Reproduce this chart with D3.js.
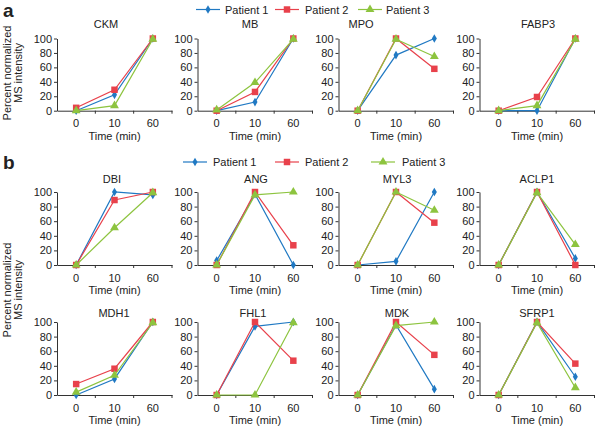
<!DOCTYPE html>
<html><head><meta charset="utf-8">
<script src="https://cdn.jsdelivr.net/npm/d3@7"></script>
<style>
body{margin:0;background:#fff;}
text{font-family:"Liberation Sans",Arial,Helvetica,sans-serif;fill:#222;}
</style></head>
<body><svg id="c" width="601" height="431"></svg>
<script>
// ---- data ----
const times = ["0", "10", "60"];
const patients = ["Patient 1", "Patient 2", "Patient 3"];
const yTicks = [0, 20, 40, 60, 80, 100];
const colors = ["#2079c3", "#e8414b", "#8dc43f"];

const rowA = ["CKM", "MB", "MPO", "FABP3"];
const rowB1 = ["DBI", "ANG", "MYL3", "ACLP1"];
const rowB2 = ["MDH1", "FHL1", "MDK", "SFRP1"];

// values per protein: [Patient 1, Patient 2, Patient 3] at times 0, 10, 60
const CKM   = [[0, 22, 100], [4, 29, 100], [0, 7, 99]];
const MB    = [[0, 12, 100], [0, 26, 100], [1, 39, 99]];
const MPO   = [[0, 77, 100], [0, 100, 58], [0, 99, 75]];
const FABP3 = [[0, 0, 100], [0, 19, 100], [0, 7, 99]];
const DBI   = [[0, 100, 96], [0, 89, 100], [0, 51, 99]];
const ANG   = [[6, 97, 0], [0, 100, 27], [0, 96, 100]];
const MYL3  = [[0, 5, 100], [0, 100, 58], [0, 100, 75]];
const ACLP1 = [[0, 100, 9], [0, 100, 0], [0, 99, 28]];
const MDH1  = [[0, 22, 100], [15, 36, 100], [4, 27, 99]];
const FHL1  = [[0, 94, 100], [0, 100, 47], [0, 0, 99]];
const MDK   = [[0, 96, 8], [0, 100, 55], [0, 95, 100]];
const SFRP1 = [[0, 100, 25], [0, 100, 43], [0, 99, 10]];

const values = {CKM, MB, MPO, FABP3, DBI, ANG, MYL3, ACLP1, MDH1, FHL1, MDK, SFRP1};

// ---- layout ----
const svg = d3.select("#c");
const FS = 11;
const axisXs = [57, 197.5, 338.5, 479.5];
const plotW = 115;
const titleX = {CKM:106, MB:250, MPO:361, FABP3:538, DBI:112, ANG:256, MYL3:397, ACLP1:537, MDH1:114, FHL1:253, MDK:397, SFRP1:537};
const rows = [
  {names: rowA, top: 38.5, bottom: 110.7, titleY: 28},
  {names: rowB1, top: 192, bottom: 265, titleY: 183},
  {names: rowB2, top: 322, bottom: 395, titleY: 317}
];

const symbols = [d3.symbolDiamond, d3.symbolSquare, d3.symbolTriangle];
const symSizes = [22, 42, 34];

rows.forEach(row => {
  const y = d3.scaleLinear().domain([0, 100]).range([row.bottom, row.top]);
  row.names.forEach((name, i) => {
    const ax = axisXs[i];
    const x = d3.scaleBand().domain(times).range([ax, ax + plotW]);
    const g = svg.append("g");

    // y axis
    const ya = g.append("g").attr("transform", `translate(${ax},0)`)
      .call(d3.axisLeft(y).tickValues(yTicks).tickSize(3).tickSizeOuter(0).tickPadding(2));
    ya.selectAll("text").style("font-size", FS + "px").attr("fill", "#222");
    ya.selectAll("line,path").attr("stroke", "#333");

    // x axis
    const xa = g.append("g").attr("transform", `translate(0,${row.bottom})`)
      .call(d3.axisBottom(x).tickSize(0).tickSizeOuter(0).tickPadding(9));
    xa.selectAll("text").style("font-size", FS + "px").attr("fill", "#222");
    xa.select("path").attr("stroke", "#333");
    // tick marks at band boundaries
    xa.selectAll("line.bnd").data(times).enter().append("line").attr("class", "bnd")
      .attr("x1", d => x(d) + x.bandwidth()).attr("x2", d => x(d) + x.bandwidth())
      .attr("y1", 0).attr("y2", 3).attr("stroke", "#333");

    // title
    g.append("text").attr("x", titleX[name]).attr("y", row.titleY)
      .attr("text-anchor", "middle").style("font-size", FS + "px").text(name);
    // x title
    g.append("text").attr("x", ax + plotW / 2).attr("y", row.bottom + 29)
      .attr("text-anchor", "middle").style("font-size", FS + "px").text("Time (min)");

    // series
    const line = d3.line().x((d, k) => x(times[k]) + x.bandwidth() / 2).y(d => y(d));
    values[name].forEach((ser, p) => {
      g.append("path").datum(ser).attr("d", line).attr("fill", "none")
        .attr("stroke", colors[p]).attr("stroke-width", 1.2);
      g.selectAll(null).data(ser).enter().append("path")
        .attr("d", d3.symbol().type(symbols[p]).size(symSizes[p]))
        .attr("transform", (d, k) => `translate(${x(times[k]) + x.bandwidth() / 2},${y(d)})`)
        .attr("fill", colors[p]);
    });
  });
});

// y labels
function yLabel(cy) {
  const t = svg.append("g").attr("transform", `translate(0,${cy})`);
  t.append("text").attr("transform", "translate(10.5,0) rotate(-90)")
    .attr("text-anchor", "middle").style("font-size", FS + "px").text("Percent normalized");
  t.append("text").attr("transform", "translate(22,0) rotate(-90)")
    .attr("text-anchor", "middle").style("font-size", FS + "px").text("MS intensity");
}
yLabel(73);
yLabel(290);

// panel letters
svg.append("text").attr("x", 3).attr("y", 17).style("font-size", "19px").style("font-weight", "bold").text("a");
svg.append("text").attr("x", 3).attr("y", 169).style("font-size", "19px").style("font-weight", "bold").text("b");

// legends
function legend(yc, lineStarts, textStarts) {
  patients.forEach((p, i) => {
    const g = svg.append("g");
    const x0 = lineStarts[i];
    g.append("line").attr("x1", x0).attr("x2", x0 + 24).attr("y1", yc).attr("y2", yc)
      .attr("stroke", colors[i]).attr("stroke-width", 1.2);
    g.append("path").attr("d", d3.symbol().type(symbols[i]).size(symSizes[i]))
      .attr("transform", `translate(${x0 + 12},${yc})`).attr("fill", colors[i]);
    g.append("text").attr("x", textStarts[i]).attr("y", yc + 4)
      .style("font-size", FS + "px").text(p);
  });
}
legend(9.5, [196, 275, 358], [225, 305, 386]);
legend(162, [183, 275, 371], [213, 305, 402]);
</script></body></html>
